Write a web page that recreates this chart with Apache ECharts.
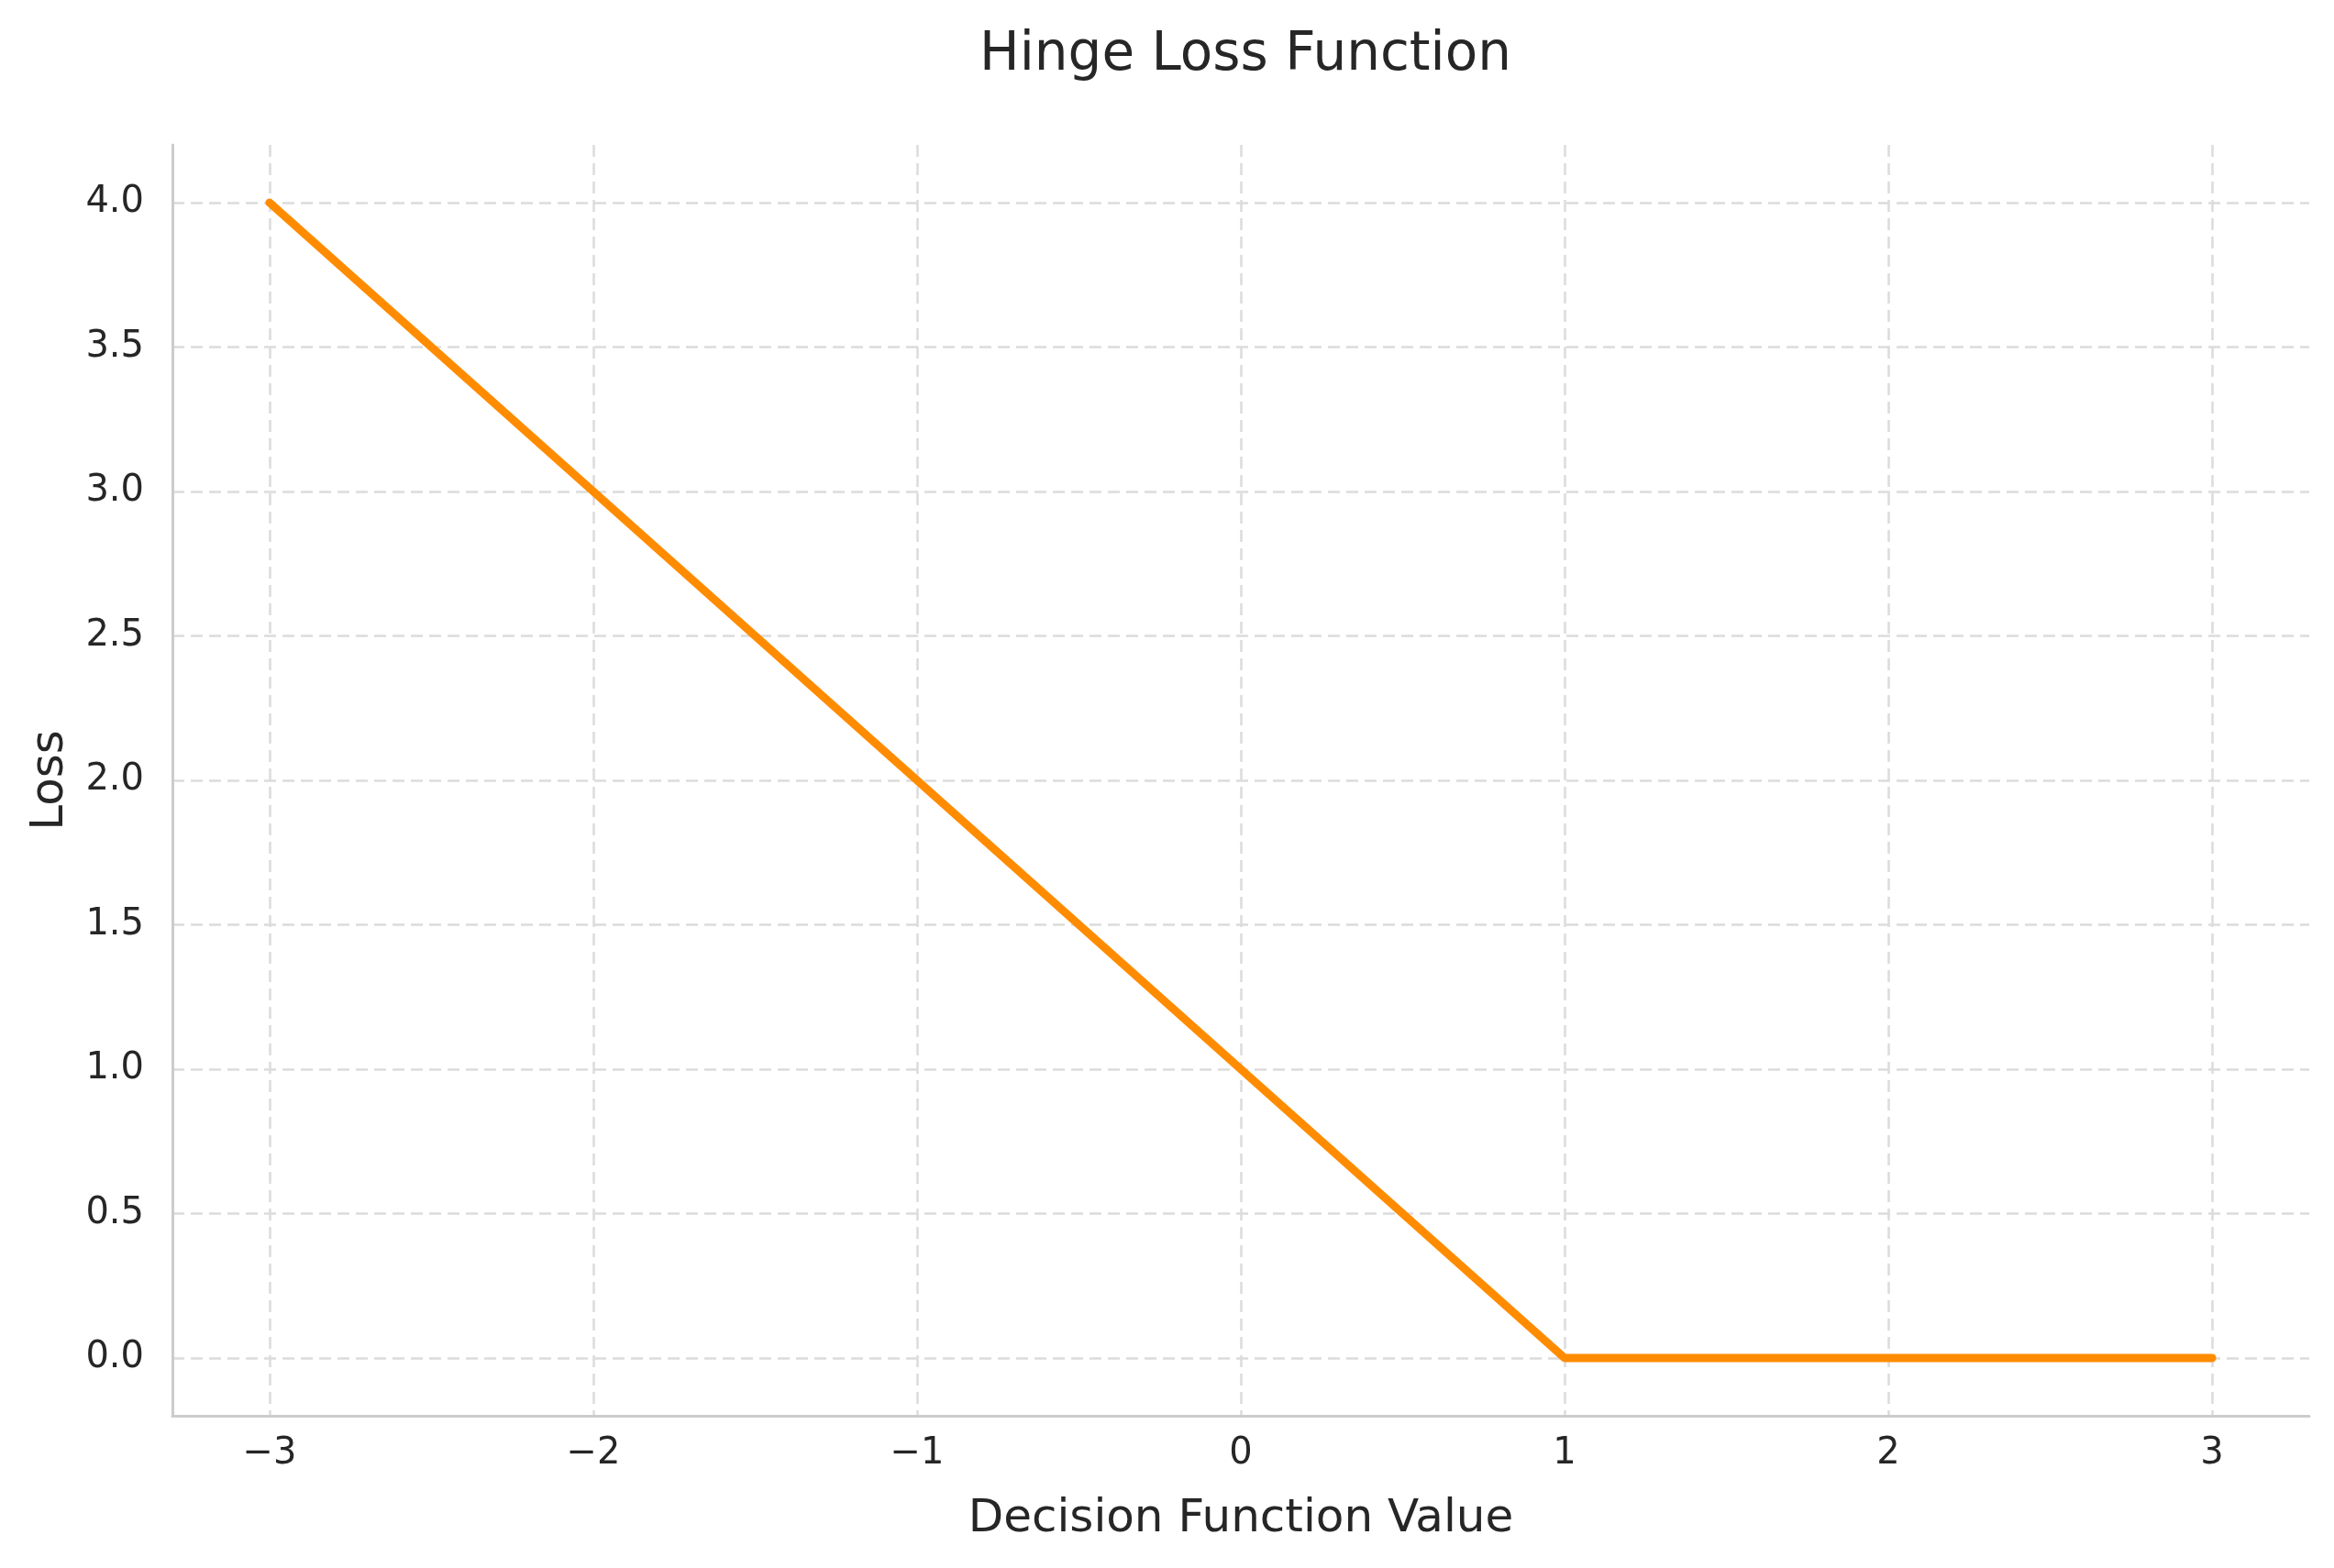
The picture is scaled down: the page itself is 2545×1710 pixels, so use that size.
<!DOCTYPE html>
<html>
<head>
<meta charset="utf-8">
<script src="https://cdn.jsdelivr.net/npm/echarts@6/dist/echarts.min.js"></script>
<style>
html,body{margin:0;padding:0;background:#fff;}
#chart{width:2545px;height:1710px;}
</style>
</head>
<body>
<div id="chart"></div>
<script>
const titleText = 'Hinge Loss Function';
const xLabel = 'Decision Function Value';
const yLabel = 'Loss';
const decisionValues = [-3, -2, -1, 0, 1, 2, 3];
const lossValues = [4, 3, 2, 1, 0, 0, 0];
const xTicks = [-3, -2, -1, 0, 1, 2, 3];
const yTicks = [0, 0.5, 1, 1.5, 2, 2.5, 3, 3.5, 4];

const FONT = 'DejaVu Sans';
const TXT = '#262626';
const fmtMinus = s => s.replace('-', '\u2212');
const GL = 188, GR = 27;
const plotCenter = GL + (2545 - GL - GR) / 2;

const chart = echarts.init(document.getElementById('chart'), null, {renderer: 'canvas'});
chart.setOption({
  backgroundColor: '#ffffff',
  animation: false,
  title: {
    text: titleText,
    left: plotCenter,
    textAlign: 'center',
    top: 27,
    textStyle: {fontFamily: FONT, fontSize: 58, fontWeight: 'normal', color: TXT}
  },
  grid: {left: GL, right: GR, top: 158, bottom: 166, containLabel: false},
  xAxis: {
    type: 'value',
    min: -3.3, max: 3.3,
    name: xLabel,
    nameLocation: 'middle',
    nameGap: 88,
    nameTextStyle: {fontFamily: FONT, fontSize: 50, color: TXT},
    axisLine: {show: true, onZero: false, lineStyle: {color: '#cccccc', width: 3}},
    axisTick: {show: false, customValues: xTicks},
    axisLabel: {
      customValues: xTicks,
      fontFamily: FONT, fontSize: 40, color: TXT, margin: 22,
      formatter: v => fmtMinus(String(v))
    },
    splitLine: {show: true, lineStyle: {color: '#dcdcdc', width: 2.5, type: [13, 7]}}
  },
  yAxis: {
    type: 'value',
    min: -0.2, max: 4.2,
    name: yLabel,
    nameLocation: 'middle',
    nameGap: 108,
    nameRotate: 90,
    nameTextStyle: {fontFamily: FONT, fontSize: 50, color: TXT},
    axisLine: {show: true, onZero: false, lineStyle: {color: '#cccccc', width: 3}},
    axisTick: {show: false, customValues: yTicks},
    axisLabel: {
      customValues: yTicks,
      fontFamily: FONT, fontSize: 40, color: TXT, margin: 31,
      formatter: v => fmtMinus(v.toFixed(1))
    },
    splitLine: {show: true, lineStyle: {color: '#dcdcdc', width: 2.5, type: [13, 7]}}
  },
  series: [{
    type: 'line',
    data: decisionValues.map((x, i) => [x, lossValues[i]]),
    showSymbol: false,
    symbol: 'none',
    lineStyle: {color: '#ff8c00', width: 9, cap: 'round', join: 'round'},
    z: 3
  }]
});
</script>
</body>
</html>
